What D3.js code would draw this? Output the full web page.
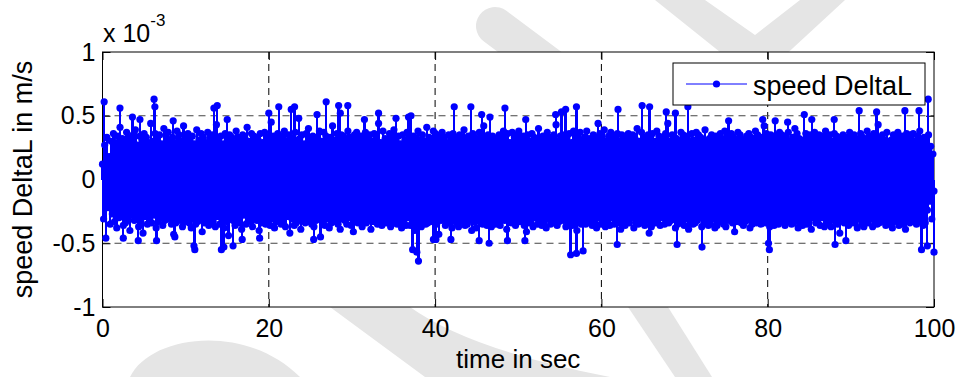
<!DOCTYPE html>
<html>
<head>
<meta charset="utf-8">
<script src="https://cdn.jsdelivr.net/npm/d3@7"></script>
<style>
  html, body { margin: 0; padding: 0; background: #fff; }
  svg { display: block; font-family: "Liberation Sans", Arial, sans-serif; }
</style>
</head>
<body>
<svg id="chart" width="958" height="377"></svg>
<script>
// speed DeltaL samples, in units of 1e-5 m/s (axis shows x 10^-3)
// evenly spaced from t = 0 to t = 100 s
const speedCore = [
  12,-31,27,-8,33,-22,18,-35,30,-27,36,-33,29,-38,34,-30,41,-29,32,-36,
  28,-34,37,-31,30,-40,33,-28,35,-32,39,-30,27,-37,34,-33,31,-42,36,-29,
  33,-35,29,-31,44,-34,30,-28,36,-38,32,-33,35,-30,28,-36,40,-32,34,-31,
  37,-29,31,-35,33,-43,29,-34,38,-30,35,-32,30,-37,42,-33,32,-29,36,-34,
  30,-38,34,-31,28,-35,39,-33,31,-30,36,-41,33,-34,29,-32,37,-36,32,-30,
  35,-33,30,-37,43,-29,32,-35,34,-31,28,-38,36,-33,31,-44,35,-30,33,-32,
  29,-36,38,-31,33,-34,30,-39,35,-28,32,-35,41,-33,30,-31,36,-37,34,-29,
  33,-32,31,-40,36,-34,29,-30,37,-35,33,-32,30,-36,45,-31,34,-38,32,-33,
  36,-30,34,-35,31,-33,38,-37,30,-29,35,-42,33,-31,29,-36,37,-34,31,-32,
  32,-39,35,-30,28,-34,36,-33,40,-31,32,-35,34,-37,30,-32,33,-30,38,-45,
  30,-33,37,-36,34,-31,29,-38,33,-34,42,-30,31,-33,36,-35,30,-39,35,-31,
  34,-32,31,-35,38,-30,33,-36,29,-41,35,-32,37,-34,31,-30,34,-37,30,-33,
  37,-34,32,-31,35,-39,30,-33,36,-32,33,-35,44,-31,29,-36,38,-33,32,-34,
  31,-30,36,-37,33,-32,39,-34,30,-35,34,-31,28,-38,35,-33,31,-36,37,-30,
  35,-36,30,-33,34,-40,32,-31,38,-34,31,-37,35,-32,30,-35,41,-34,33,-31,
  32,-33,38,-30,36,-35,31,-43,34,-32,37,-30,33,-36,29,-34,35,-31,32,-38,
  36,-31,33,-34,30,-37,35,-33,32,-30,39,-36,31,-35,34,-32,30,-40,36,-33,
  33,-38,31,-32,37,-34,30,-35,42,-31,33,-36,35,-30,32,-37,34,-33,31,-35,
  30,-34,35,-36,33,-31,38,-32,31,-39,36,-33,29,-34,37,-31,33,-36,35,-32,
  38,-33,32,-30,34,-36,31,-41,35,-34,30,-32,36,-37,33,-30,31,-35,40,-33,
  31,-36,34,-33,30,-38,37,-31,33,-35,32,-30,35,-34,43,-36,30,-33,34,-31,
  35,-32,30,-37,33,-34,36,-31,29,-36,38,-33,31,-40,34,-32,37,-35,30,-34,
  33,-35,38,-31,32,-33,30,-36,35,-34,31,-38,33,-30,36,-35,32,-31,39,-37,
  30,-33,34,-36,37,-30,33,-35,31,-32,36,-34,30,-39,35,-33,32,-36,34,-31,
  36,-34,31,-30,35,-38,32,-33,40,-35,30,-31,37,-34,33,-36,31,-32,35,-42,
  32,-37,36,-33,30,-34,38,-31,34,-36,33,-30,31,-35,36,-33,44,-34,30,-32,
  35,-31,33,-38,32,-35,30,-34,37,-33,35,-36,32,-31,34,-39,30,-33,36,-35,
  31,-34,37,-32,35,-30,33,-37,31,-34,39,-33,30,-36,32,-35,35,-31,33,-38,
  34,-36,30,-33,36,-31,32,-35,38,-37,31,-32,34,-30,36,-34,33,-41,31,-33,
  37,-32,35,-34,31,-36,30,-33,34,-31,36,-38,33,-35,30,-32,38,-34,35,-30,
  32,-35,33,-31,42,-34,36,-30,31,-37,35,-33,32,-36,34,-31,30,-35,37,-33,
  35,-30,31,-36,34,-33,37,-32,30,-35,33,-34,40,-31,36,-38,32,-33,31,-36,
  30,-33,36,-35,32,-31,35,-39,33,-30,37,-34,31,-32,35,-36,34,-30,33,-37,
  38,-34,32,-33,35,-37,30,-31,36,-33,34,-35,31,-42,33,-30,35,-34,32,-31,
  33,-36,37,-30,31,-34,35,-33,32,-38,30,-31,36,-35,33,-37,31,-32,38,-34,
  34,-31,33,-37,36,-32,30,-35,43,-34,32,-33,35,-30,31,-36,37,-33,30,-35,
  31,-38,35,-33,32,-30,37,-36,33,-31,34,-35,30,-39,36,-32,33,-34,35,-30,
  36,-33,30,-35,34,-31,38,-32,31,-36,33,-34,29,-24,35,-17,26,-31,20,-9
];

// the larger excursions that stick out of the band (time in s, value in 1e-5 m/s)
const peakTimes = [
  0.2,2.1,3.6,4.5,6.2,6.3,8.5,13.4,13.8,15.0,
  20.0,21.2,22.7,23.1,23.6,25.8,26.9,28.4,28.6,29.5,
  31.5,33.2,35.3,36.8,37.1,42.3,44.3,45.6,46.6,48.4,
  50.9,54.5,55.2,55.7,57.0,59.6,62.0,64.9,65.8,67.8,
  68.9,70.4,75.3,79.4,80.9,82.4,84.4,85.3,88.0,91.0,
  93.1,96.5,98.2,99.3,
  0.4,2.5,4.3,6.5,8.7,11.0,11.1,14.3,14.6,15.7,
  16.8,18.9,25.4,37.3,37.8,38.0,39.8,40.1,41.9,45.3,
  46.5,48.7,50.8,56.3,57.0,57.8,61.9,69.1,72.1,80.1,
  80.2,88.1,89.4,98.5,99.2,100.0
];
const peakValues = [
  61,56,49,47,63,57,46,56,58,47,
  52,57,55,57,48,51,61,58,52,58,
  47,52,48,49,50,57,57,51,49,56,
  47,51,53,55,57,44,55,58,57,53,
  52,57,46,47,46,45,51,47,47,54,
  53,54,54,63,
  -46,-46,-48,-48,-45,-52,-55,-55,-53,-52,
  -47,-46,-47,-55,-57,-64,-47,-47,-47,-48,
  -50,-48,-48,-59,-58,-56,-51,-51,-53,-50,
  -55,-51,-48,-55,-52,-57
];

const xTicks = [0, 20, 40, 60, 80, 100];
const yTicks = [-100, -50, 0, 50, 100];
const yTickLabels = ["-1", "-0.5", "0", "0.5", "1"];
const yGrid = [-50, 50];
const xLabel = "time in sec";
const yLabel = "speed DeltaL in m/s";
const seriesName = "speed DeltaL";

const svg = d3.select("#chart");
const box = { left: 102.5, right: 934, top: 52, bottom: 307 };
const blue = "#0000ff";
const fontSize = 25;

// faint watermark shapes sitting behind the figure
const wm = svg.append("g").attr("fill", "#e5e5e5");
wm.append("path").attr("d", "M655,0 L705,0 L755,35 L800,0 L845,0 L780,60 L730,60 Z");
wm.append("line").attr("x1", 495).attr("y1", 26).attr("x2", 570).attr("y2", 82)
  .attr("stroke", "#e5e5e5").attr("stroke-width", 38).attr("stroke-linecap", "round");
wm.append("path").attr("d", "M130,377 C150,335 245,322 300,377 Z");
wm.append("path").attr("d", "M330,307 L410,307 Q470,350 610,377 L425,377 Z");
wm.append("path").attr("d", "M628,307 L668,307 L712,377 L675,377 Z");

const x = d3.scaleLinear().domain([0, 100]).range([box.left, box.right]);
const y = d3.scaleLinear().domain([-100, 100]).range([box.bottom, box.top]);

// axes background
svg.append("rect")
  .attr("x", box.left).attr("y", box.top)
  .attr("width", box.right - box.left).attr("height", box.bottom - box.top)
  .attr("fill", "#fff");

// dashed grid
const grid = svg.append("g").attr("stroke", "#000").attr("stroke-width", 1)
  .attr("stroke-dasharray", "7,5").attr("fill", "none");
grid.selectAll("line.gx")
  .data(xTicks.filter(d => d > 0 && d < 100))
  .enter().append("line")
  .attr("class", "gx")
  .attr("x1", d => x(d)).attr("x2", d => x(d))
  .attr("y1", box.top).attr("y2", box.bottom);
grid.selectAll("line.gy")
  .data(yGrid)
  .enter().append("line")
  .attr("class", "gy")
  .attr("stroke", "#444")
  .attr("x1", box.left).attr("x2", box.right)
  .attr("y1", d => y(d)).attr("y2", d => y(d));

// axes with inward ticks
const axisStyle = g => {
  g.select(".domain").remove();
  g.selectAll(".tick line").attr("stroke", "#000");
  g.selectAll("text").attr("font-size", fontSize).attr("fill", "#000")
    .attr("font-family", "'Liberation Sans', Arial, sans-serif");
};
svg.append("g")
  .attr("transform", `translate(0,${box.bottom})`)
  .call(d3.axisBottom(x).tickValues(xTicks).tickSize(-8).tickPadding(12).tickFormat(d3.format("d")))
  .call(axisStyle);
svg.append("g")
  .attr("transform", `translate(0,${box.top})`)
  .call(d3.axisTop(x).tickValues(xTicks).tickSize(-8).tickFormat(""))
  .call(axisStyle);
svg.append("g")
  .attr("transform", `translate(${box.left},0)`)
  .call(d3.axisLeft(y).tickValues(yTicks).tickSize(-8).tickPadding(7)
    .tickFormat((d, i) => yTickLabels[i]))
  .call(axisStyle);
svg.append("g")
  .attr("transform", `translate(${box.right},0)`)
  .call(d3.axisRight(y).tickValues(yTicks).tickSize(-8).tickFormat(""))
  .call(axisStyle);

svg.append("rect")
  .attr("x", box.left).attr("y", box.top)
  .attr("width", box.right - box.left).attr("height", box.bottom - box.top)
  .attr("fill", "none").attr("stroke", "#000").attr("stroke-width", 1);

// stem series
const step = 100 / (speedCore.length - 1);
const samples = speedCore.map((v, i) => ({ t: i * step, v: v }))
  .concat(peakTimes.map((t, i) => ({ t: t, v: peakValues[i] })));

const stems = svg.append("g");
stems.selectAll("line")
  .data(samples)
  .enter().append("line")
  .attr("x1", d => x(d.t)).attr("x2", d => x(d.t))
  .attr("y1", y(0)).attr("y2", d => y(d.v))
  .attr("stroke", blue)
  .attr("stroke-width", 2.3)
  .attr("shape-rendering", "crispEdges");
stems.selectAll("circle")
  .data(samples)
  .enter().append("circle")
  .attr("cx", d => x(d.t)).attr("cy", d => y(d.v))
  .attr("r", 3.6)
  .attr("fill", blue);

// exponent label
const ex = svg.append("text").attr("x", 103).attr("y", 42).attr("font-size", fontSize);
ex.append("tspan").text("x 10");
ex.append("tspan").attr("font-size", 17).attr("dy", -16).text("-3");

// axis labels
svg.append("text")
  .attr("x", (box.left + box.right) / 2).attr("y", 368)
  .attr("text-anchor", "middle").attr("font-size", 26)
  .text(xLabel);
svg.append("text")
  .attr("transform", `translate(32,${(box.top + box.bottom) / 2}) rotate(-90)`)
  .attr("text-anchor", "middle").attr("font-size", 27)
  .text(yLabel);

// legend
const lg = svg.append("g");
lg.append("rect").attr("x", 673).attr("y", 63).attr("width", 252).attr("height", 42)
  .attr("fill", "#fff").attr("stroke", "#000").attr("stroke-width", 1);
lg.append("line").attr("x1", 686).attr("x2", 747).attr("y1", 84).attr("y2", 84)
  .attr("stroke", blue).attr("stroke-width", 1);
lg.append("circle").attr("cx", 716.5).attr("cy", 84).attr("r", 3.6).attr("fill", blue);
lg.append("text").attr("x", 753).attr("y", 95).attr("font-size", 27).text(seriesName);
</script>
</body>
</html>
